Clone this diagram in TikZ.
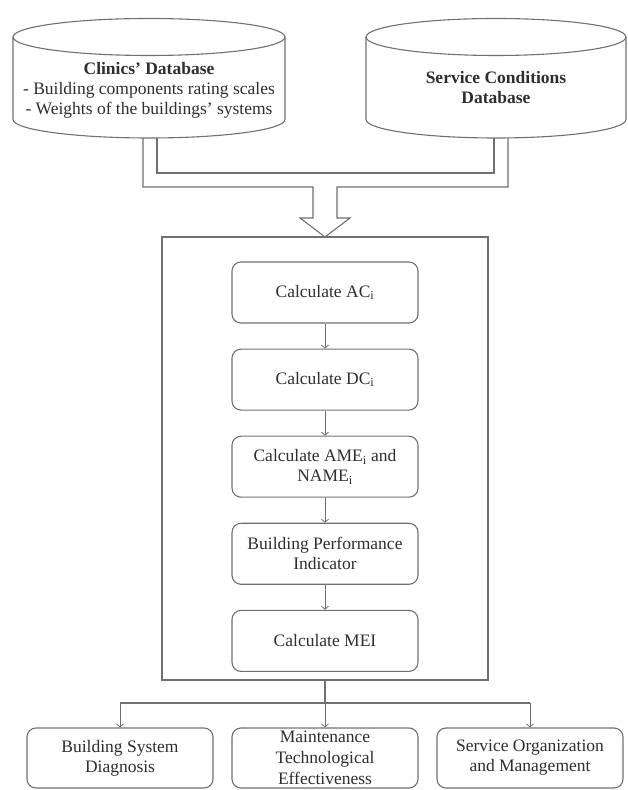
\documentclass[tikz,border=0pt]{standalone}
\usepackage{fontspec}
\setmainfont{Liberation Serif}
\usetikzlibrary{arrows.meta,positioning}
\definecolor{linegray}{HTML}{707070}
\definecolor{inkgray}{HTML}{2E2E2E}
\begin{document}
\begin{tikzpicture}[
    x=1pt, y=1pt,
    node distance=25pt,
    font=\fontsize{17.5}{20}\selectfont,
    every node/.style={text=inkgray},
    calcbox/.style={rectangle, draw=linegray, line width=1.1pt, rounded corners=9pt, minimum width=186pt, minimum height=61pt, align=center, inner sep=0pt},
    outbox/.style={calcbox, minimum height=60pt},
    frame/.style={rectangle, draw=linegray, line width=1.1pt, minimum width=326pt, minimum height=443pt},
    arrow/.style={-{Straight Barb[length=3pt,width=7pt]}, line width=0.8pt, linegray},
    pipe/.style={draw=linegray, line width=1.1pt},
]
\useasboundingbox (0,0) rectangle (628,790);

% databases
\draw[pipe] (149,753) ellipse [x radius=136, y radius=18.5];
\draw[pipe] (13,753) -- (13,670.5) arc[start angle=180, end angle=360, x radius=136, y radius=18.5] -- (285,753);
\draw[pipe] (496,753) ellipse [x radius=130, y radius=18.5];
\draw[pipe] (366,753) -- (366,670.5) arc[start angle=180, end angle=360, x radius=130, y radius=18.5] -- (626,753);
\node[align=center] (clinicsdb) at (149,700) {\textbf{Clinics' Database}\\- Building components rating scales\\- Weights of the buildings' systems};
\node[align=center] (servicedb) at (496,702) {\textbf{Service Conditions}\\\textbf{Database}};

% double-line arrow into the model
\draw[pipe] (143,652) |- (313,603) -- (313,572) -- (300,572) -- (325,553) coordinate (tip) -- (350,572) -- (337,572) -- (337,603) -| (508,652);
\draw[pipe] (157,652) |- (494,617) -- (494,652);

% model
\node[frame] (model) at (325,331.5) {};
\node[calcbox] (ac) at (325,497.5) {Calculate AC\textsubscript{i}};
\node[calcbox, below=of ac] (dc) {Calculate DC\textsubscript{i}};
\node[calcbox, below=of dc] (ame) {Calculate AME\textsubscript{i} and\\NAME\textsubscript{i}};
\node[calcbox, below=of ame] (bpi) {Building Performance\\Indicator};
\node[calcbox, below=of bpi] (mei) {Calculate MEI};

\foreach \a/\b in {ac/dc, dc/ame, ame/bpi, bpi/mei}
    \draw[arrow] (\a) -- (\b);

% results
\node[outbox] (diag) at (120,32) {Building System\\Diagnosis};
\node[outbox, font=\fontsize{17.5}{21}\selectfont] (mte) at (325,32) {Maintenance\\Technological\\Effectiveness};
\node[outbox] (som) at (530,32) {Service Organization\\and Management};

\coordinate (split) at (325,87);
\draw[pipe] (model.south) -- (split);
\draw[pipe] (diag.north |- split) -- (som.north |- split);
\foreach \n in {diag,mte,som}
    \draw[arrow] (\n.north |- split) -- (\n.north);
\end{tikzpicture}
\end{document}
